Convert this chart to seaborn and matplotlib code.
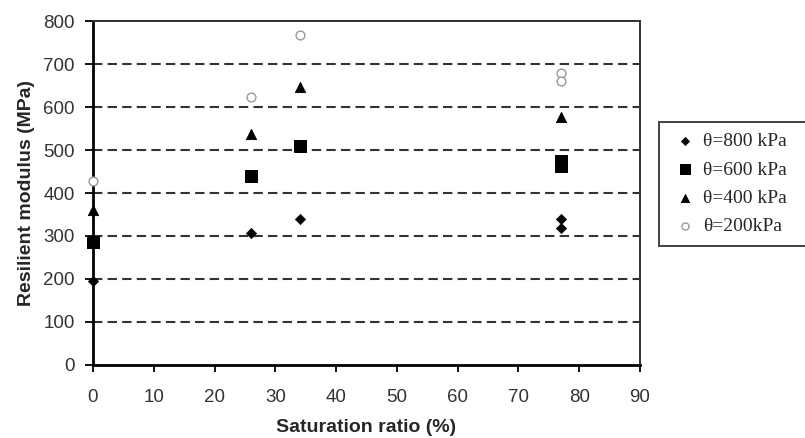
import matplotlib
matplotlib.use("Agg")
import matplotlib.pyplot as plt
import seaborn as sns
import pandas as pd

# Data
sat_800 = [0, 26, 34, 77, 77]
mr_800 = [195, 308, 340, 340, 318]
sat_600 = [0, 26, 34, 77, 77]
mr_600 = [287, 440, 509, 475, 462]
sat_400 = [0, 26, 34, 77]
mr_400 = [360, 537, 646, 576]
sat_200 = [0, 26, 34, 77, 77]
mr_200 = [428, 624, 767, 678, 660]
labels = ["θ=800 kPa", "θ=600 kPa", "θ=400 kPa", "θ=200kPa"]
xticks = list(range(0, 91, 10))
yticks = list(range(0, 801, 100))

sns.set_style("white")
plt.rcParams['font.family'] = ['Liberation Sans', 'DejaVu Sans']

fig = plt.figure(figsize=(8.05, 4.38), dpi=100)
ax = fig.add_axes([0.1155, 0.1667, 0.795 - 0.1155, 0.952 - 0.1667])

series = [
    (sat_800, mr_800, labels[0], dict(marker="D", s=28, color="black", edgecolor="black")),
    (sat_600, mr_600, labels[1], dict(marker="s", s=80, color="black", edgecolor="black")),
    (sat_400, mr_400, labels[2], dict(marker="^", s=55, color="black", edgecolor="black")),
    (sat_200, mr_200, labels[3], dict(marker="o", s=40, facecolor="white", edgecolor="#999999", linewidth=1.0)),
]
for xs, ys, lab, kw in series:
    df = pd.DataFrame({"x": xs, "y": ys})
    sns.scatterplot(data=df, x="x", y="y", ax=ax, label=lab, zorder=5, clip_on=False, **kw)

ax.set_xlim(0, 90)
ax.set_ylim(0, 800)
ax.set_xticks(xticks)
ax.set_yticks(yticks)
for yv in yticks[1:-1]:
    ax.axhline(yv, color="#333333", linestyle=(0, (4.5, 2.5)), linewidth=1.5, zorder=1)

ax.tick_params(axis="both", direction="out", width=1.3, colors="black",
               labelcolor="#333333", labelsize=13.5, bottom=True, left=True)
ax.tick_params(axis="x", length=5, pad=12)
ax.tick_params(axis="y", length=6, pad=7)
for side in ["left", "bottom"]:
    ax.spines[side].set_color("black")
    ax.spines[side].set_linewidth(2.0)
for side in ["top", "right"]:
    ax.spines[side].set_color("#333333")
    ax.spines[side].set_linewidth(1.4)

ax.set_xlabel("Saturation ratio (%)", fontsize=14, fontweight="bold", labelpad=10)
ax.set_ylabel("Resilient modulus (MPa)", fontsize=14, fontweight="bold", labelpad=6)

leg = ax.legend(loc="upper left", bbox_to_anchor=(0.8186, 0.4475, 0.25, 0.274),
                bbox_transform=fig.transFigure, mode="expand", frameon=True,
                fancybox=False, edgecolor="black", borderaxespad=0,
                prop={"family": "Liberation Serif", "size": 14},
                handletextpad=0.1, labelspacing=0.55, borderpad=0.55, markerscale=0.8,
                handlelength=1.6)
leg.get_frame().set_linewidth(1.3)

fig.savefig("out.png", dpi=100)
